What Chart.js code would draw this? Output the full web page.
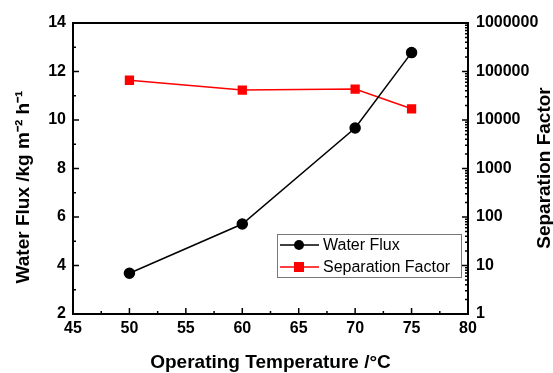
<!DOCTYPE html>
<html lang="en">
<head>
    <meta charset="UTF-8">
    <title>Water Flux and Separation Factor</title>
    <style>
        body { margin: 0; padding: 0; background: #fff; }
        #box { width: 553px; height: 373px; position: relative; }
    </style>
</head>
<body>
    <div id="box"><canvas id="chart"></canvas></div>

    <script src="https://cdn.jsdelivr.net/npm/chart.js"></script>
    <script>
        // Data
        const temperatures = [50, 60, 70, 75];
        const waterFlux = [3.68, 5.71, 9.67, 12.78];
        const separationFactor = [66000, 41500, 43500, 17000];
        const xTicks = [45, 50, 55, 60, 65, 70, 75, 80];
        const fluxTicks = [2, 4, 6, 8, 10, 12, 14];
        const sepTicks = [1, 10, 100, 1000, 10000, 100000, 1000000];

        const tickFont = { family: 'Liberation Sans, Arial, sans-serif', size: 16, weight: 'bold' };
        const titleFont = 'bold 19px "Liberation Sans", Arial, sans-serif';

        // frame, inward ticks, axis titles and legend
        const decorations = {
            id: 'decorations',
            afterDraw(chart) {
                const ctx = chart.ctx;
                const a = chart.chartArea;
                const x = chart.scales.x, y = chart.scales.y, y2 = chart.scales.y2;
                ctx.save();
                ctx.strokeStyle = '#000';
                ctx.lineWidth = 2;
                ctx.strokeRect(a.left, a.top, a.right - a.left, a.bottom - a.top);

                ctx.lineWidth = 1.5;
                ctx.beginPath();
                // x ticks (major + minor), pointing inward
                for (let v = 45; v <= 80; v += 2.5) {
                    const px = x.getPixelForValue(v);
                    const len = (v % 5 === 0) ? 6 : 3;
                    ctx.moveTo(px, a.bottom);
                    ctx.lineTo(px, a.bottom - len);
                }
                // left y ticks
                for (let v = 2; v <= 14; v += 1) {
                    const py = y.getPixelForValue(v);
                    const len = (v % 2 === 0) ? 6 : 3;
                    ctx.moveTo(a.left, py);
                    ctx.lineTo(a.left + len, py);
                }
                // right log ticks
                for (let d = 1; d <= 1000000; d *= 10) {
                    for (let m = 1; m <= 9; m++) {
                        const v = d * m;
                        if (v > 1000000) break;
                        const py = y2.getPixelForValue(v);
                        const len = (m === 1) ? 6 : 3;
                        ctx.moveTo(a.right, py);
                        ctx.lineTo(a.right - len, py);
                    }
                }
                ctx.stroke();

                // axis titles
                ctx.fillStyle = '#000';
                ctx.font = titleFont;
                ctx.textAlign = 'center';
                ctx.textBaseline = 'middle';
                ctx.fillText('Operating Temperature /°C', (a.left + a.right) / 2, 363);

                ctx.save();
                ctx.translate(24, 187);
                ctx.rotate(-Math.PI / 2);
                ctx.fillText('Water Flux /kg m⁻² h⁻¹', 0, 0);
                ctx.restore();

                ctx.save();
                ctx.translate(545, 168);
                ctx.rotate(-Math.PI / 2);
                ctx.fillText('Separation Factor', 0, 0);
                ctx.restore();

                // legend
                const lx = 277, ly = 234, lw = 184, lh = 43;
                ctx.fillStyle = '#fff';
                ctx.fillRect(lx, ly, lw, lh);
                ctx.strokeStyle = '#777';
                ctx.lineWidth = 1;
                ctx.strokeRect(lx + 0.5, ly + 0.5, lw, lh);
                ctx.font = '16px "Liberation Sans", Arial, sans-serif';
                ctx.textAlign = 'left';
                chart.data.datasets.forEach((ds, i) => {
                    const ry = ly + 11 + i * 22;
                    ctx.strokeStyle = ds.borderColor;
                    ctx.lineWidth = 1.5;
                    ctx.beginPath();
                    ctx.moveTo(lx + 3, ry);
                    ctx.lineTo(lx + 42, ry);
                    ctx.stroke();
                    ctx.fillStyle = ds.pointBackgroundColor;
                    if (ds.pointStyle === 'rect') {
                        ctx.fillRect(lx + 22 - 5, ry - 5, 10, 10);
                    } else {
                        ctx.beginPath();
                        ctx.arc(lx + 22, ry, 5, 0, Math.PI * 2);
                        ctx.fill();
                    }
                    ctx.fillStyle = '#000';
                    ctx.fillText(ds.label, lx + 46, ry + 1);
                });
                ctx.restore();
            }
        };

        const ctx = document.getElementById('chart').getContext('2d');
        new Chart(ctx, {
            type: 'line',
            data: {
                datasets: [{
                    label: 'Water Flux',
                    data: temperatures.map((t, i) => ({ x: t, y: waterFlux[i] })),
                    yAxisID: 'y',
                    borderColor: '#000',
                    pointBackgroundColor: '#000',
                    pointBorderColor: '#000',
                    pointStyle: 'circle',
                    pointRadius: 5,
                    borderWidth: 1.5,
                    tension: 0
                }, {
                    label: 'Separation Factor',
                    data: temperatures.map((t, i) => ({ x: t, y: separationFactor[i] })),
                    yAxisID: 'y2',
                    borderColor: '#ff0000',
                    pointBackgroundColor: '#ff0000',
                    pointBorderColor: '#ff0000',
                    pointStyle: 'rect',
                    pointRadius: 5.5,
                    borderWidth: 1.5,
                    tension: 0
                }]
            },
            options: {
                responsive: true,
                maintainAspectRatio: false,
                animation: false,
                layout: { padding: { top: 23, left: 0, right: 0, bottom: 0 } },
                plugins: { legend: { display: false }, tooltip: { enabled: false } },
                scales: {
                    x: {
                        type: 'linear',
                        min: 45, max: 80,
                        afterBuildTicks: s => { s.ticks = xTicks.map(v => ({ value: v })); },
                        grid: { display: false, drawTicks: false },
                        border: { display: false },
                        ticks: { font: tickFont, color: '#000', padding: 5, maxRotation: 0 },
                        afterFit: s => { s.height = 59; }
                    },
                    y: {
                        position: 'left',
                        min: 2, max: 14,
                        afterBuildTicks: s => { s.ticks = fluxTicks.map(v => ({ value: v })); },
                        grid: { display: false, drawTicks: false },
                        border: { display: false },
                        ticks: { font: tickFont, color: '#000', padding: 7 },
                        afterFit: s => { s.width = 73; }
                    },
                    y2: {
                        type: 'logarithmic',
                        position: 'right',
                        min: 1, max: 1000000,
                        afterBuildTicks: s => { s.ticks = sepTicks.map(v => ({ value: v })); },
                        grid: { display: false, drawTicks: false },
                        border: { display: false },
                        ticks: { font: tickFont, color: '#000', padding: 8, callback: v => String(v) },
                        afterFit: s => { s.width = 85; }
                    }
                }
            },
            plugins: [decorations]
        });
    </script>
</body>
</html>
